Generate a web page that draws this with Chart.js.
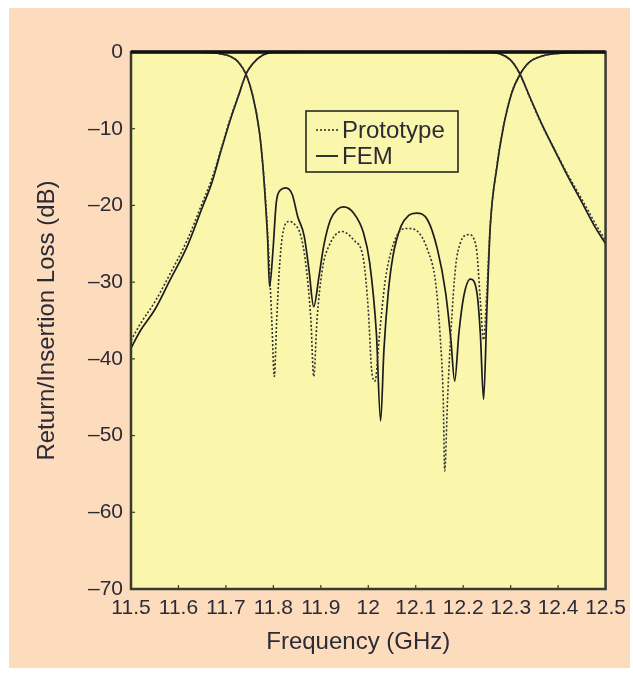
<!DOCTYPE html>
<html>
<head>
<meta charset="utf-8">
<title>Return / Insertion Loss</title>
<script src="https://cdn.jsdelivr.net/npm/chart.js@4.4.1/dist/chart.umd.min.js"></script>
<style>
    html, body { margin: 0; padding: 0; background: #ffffff; }
    #panel {
        position: absolute; left: 9px; top: 8px;
        width: 621px; height: 660px;
        background: #fddbbd;
    }
    #wrap { position: absolute; left: 0; top: 0; width: 633px; height: 673px; }
</style>
</head>
<body>
<div id="panel"></div>
<div id="wrap"><canvas id="lossChart" width="633" height="673"></canvas></div>
<script>
// Filter response: prototype (measured) vs FEM simulation

const freqTickLabels = ['11.5', '11.6', '11.7', '11.8', '11.9', '12', '12.1', '12.2', '12.3', '12.4', '12.5'];
const dbTickLabels = ['\u201370', '\u201360', '\u201350', '\u201340', '\u201330', '\u201320', '\u201310', '0'];
const seriesNames = ['Prototype', 'FEM'];

// Insertion loss (S21)
const femIlFreq = [11.50, 11.52, 11.55, 11.58, 11.62, 11.65, 11.67, 11.69, 11.71, 11.726, 11.743, 11.757, 11.778, 11.80, 12.00, 12.26, 12.278, 12.299, 12.319, 12.34, 12.368, 12.396, 12.417, 12.451, 12.475, 12.50];
const femIlDb = [-38.6, -36.3, -33.6, -30.0, -25.1, -20.3, -17.1, -12.8, -8.7, -5.8, -2.8, -1.5, -0.4, -0.05, 0, -0.05, -0.25, -1.0, -2.8, -5.8, -9.7, -13.2, -15.8, -19.7, -22.5, -25.0];

const protoIlFreq = [11.50, 11.52, 11.55, 11.58, 11.62, 11.65, 11.67, 11.69, 11.71, 11.726, 11.743, 11.757, 11.778, 11.80, 12.00, 12.26, 12.278, 12.299, 12.319, 12.34, 12.368, 12.396, 12.417, 12.451, 12.475, 12.50];
const protoIlDb = [-37.6, -35.4, -32.6, -29.2, -24.3, -19.7, -16.6, -12.6, -8.5, -5.7, -2.8, -1.5, -0.4, -0.05, 0, -0.05, -0.25, -1.0, -2.8, -5.9, -9.8, -13.1, -15.6, -19.3, -22.0, -24.6];

// Return loss (S11)
const femRlFreq = [11.50, 11.64, 11.67, 11.69, 11.71, 11.726, 11.743, 11.757, 11.771, 11.778, 11.783, 11.788, 11.792, 11.799, 11.806, 11.815, 11.826, 11.84, 11.851, 11.865, 11.875, 11.885, 11.896, 11.906, 11.92, 11.935, 11.948, 11.969, 11.99, 12.003, 12.017, 12.026, 12.033, 12.042, 12.052, 12.069, 12.085, 12.101, 12.125, 12.146, 12.163, 12.174, 12.182, 12.191, 12.201, 12.215, 12.229, 12.236, 12.243, 12.25, 12.257, 12.271, 12.285, 12.302, 12.319, 12.34, 12.368, 12.396, 12.43, 12.50];
const femRlDb = [0, -0.03, -0.1, -0.25, -0.6, -1.3, -3.0, -5.8, -10.6, -14.9, -19.3, -24.5, -30.6, -26.0, -19.7, -18.0, -17.7, -18.6, -21.4, -24.0, -28.4, -33.2, -29.3, -25.3, -21.9, -20.5, -20.2, -21.0, -23.6, -27.5, -36.6, -48.1, -38.8, -31.4, -26.6, -22.7, -21.3, -21.0, -21.9, -25.8, -31.4, -37.5, -42.9, -36.6, -31.9, -29.6, -31.4, -36.6, -45.3, -33.5, -22.8, -15.0, -9.7, -5.4, -3.0, -1.3, -0.5, -0.2, -0.05, 0];

const protoRlFreq = [11.50, 11.64, 11.67, 11.69, 11.71, 11.726, 11.743, 11.757, 11.771, 11.778, 11.785, 11.792, 11.797, 11.802, 11.807, 11.8125, 11.819, 11.833, 11.842, 11.858, 11.868, 11.879, 11.885, 11.892, 11.903, 11.917, 11.944, 11.969, 11.99, 12.0, 12.007, 12.014, 12.024, 12.035, 12.049, 12.069, 12.083, 12.104, 12.125, 12.142, 12.151, 12.158, 12.161, 12.167, 12.174, 12.184, 12.194, 12.212, 12.222, 12.229, 12.236, 12.243, 12.25, 12.257, 12.271, 12.285, 12.302, 12.319, 12.34, 12.368, 12.396, 12.43, 12.50];
const protoRlDb = [0, -0.03, -0.1, -0.25, -0.6, -1.3, -3.0, -5.8, -10.6, -14.9, -20.5, -28.5, -35.5, -42.3, -35.0, -28.4, -24.0, -22.1, -22.3, -24.0, -27.5, -34.9, -42.3, -34.9, -28.4, -25.3, -23.4, -24.5, -27.1, -33.6, -41.4, -42.9, -36.6, -30.1, -25.8, -23.2, -23.0, -23.4, -25.8, -30.1, -36.6, -45.3, -54.6, -45.3, -36.6, -28.0, -24.9, -23.8, -24.3, -26.2, -32.3, -37.5, -31.0, -22.5, -14.8, -9.6, -5.3, -3.0, -1.3, -0.5, -0.2, -0.05, 0];

const textColor = '#2b2b36';
const lineColor = '#1c1c1c';
const protoDash = [2, 2];

function toPoints(xs, ys) {
    return xs.map(function(x, i) { return { x: x, y: ys[i] }; });
}

function protoStyle(data) {
    return {
        data: data,
        borderColor: '#333333',
        borderWidth: 1.6,
        borderDash: protoDash,
        pointRadius: 0,
        cubicInterpolationMode: 'monotone',
        fill: false
    };
}

function femStyle(data) {
    return {
        data: data,
        borderColor: lineColor,
        borderWidth: 1.7,
        pointRadius: 0,
        cubicInterpolationMode: 'monotone',
        fill: false
    };
}

// yellow plot background
const plotBackground = {
    id: 'plotBackground',
    beforeDraw(chart) {
        const { ctx, chartArea } = chart;
        ctx.save();
        ctx.fillStyle = '#faf6ac';
        ctx.fillRect(chartArea.left, chartArea.top, chartArea.right - chartArea.left, chartArea.bottom - chartArea.top);
        ctx.restore();
    }
};

// frame with small inward ticks
const plotFrame = {
    id: 'plotFrame',
    afterDatasetsDraw(chart) {
        const { ctx, chartArea, scales } = chart;
        ctx.save();
        ctx.strokeStyle = '#3a3a2e';
        ctx.lineWidth = 1.2;
        scales.x.ticks.forEach(function(t) {
            const px = scales.x.getPixelForValue(t.value);
            ctx.beginPath();
            ctx.moveTo(px, chartArea.bottom);
            ctx.lineTo(px, chartArea.bottom - 4);
            ctx.stroke();
        });
        scales.y.ticks.forEach(function(t) {
            const py = scales.y.getPixelForValue(t.value);
            ctx.beginPath();
            ctx.moveTo(chartArea.left, py);
            ctx.lineTo(chartArea.left + 4, py);
            ctx.stroke();
        });
        ctx.lineWidth = 2.5;
        ctx.strokeRect(chartArea.left, chartArea.top, chartArea.right - chartArea.left, chartArea.bottom - chartArea.top);
        ctx.strokeStyle = '#111111';
        ctx.lineWidth = 3.5;
        ctx.beginPath();
        ctx.moveTo(chartArea.left, chartArea.top);
        ctx.lineTo(chartArea.right, chartArea.top);
        ctx.stroke();
        ctx.restore();
    }
};

// boxed legend inside the plot
const boxedLegend = {
    id: 'boxedLegend',
    afterDraw(chart) {
        const { ctx, chartArea } = chart;
        const bx = chartArea.left + 175;
        const by = chartArea.top + 59;
        const bw = 152;
        const bh = 61;
        ctx.save();
        ctx.strokeStyle = '#2a2a24';
        ctx.lineWidth = 1.6;
        ctx.strokeRect(bx, by, bw, bh);

        const rows = [
            { name: seriesNames[0], y: by + 19, dash: protoDash, color: '#333333', width: 1.6 },
            { name: seriesNames[1], y: by + 45, dash: [], color: lineColor, width: 1.8 }
        ];
        ctx.font = '24px "Liberation Sans", Arial, sans-serif';
        ctx.textBaseline = 'middle';
        ctx.textAlign = 'left';
        rows.forEach(function(r) {
            ctx.strokeStyle = r.color;
            ctx.lineWidth = r.width;
            ctx.setLineDash(r.dash);
            ctx.beginPath();
            ctx.moveTo(bx + 10, r.y);
            ctx.lineTo(bx + 32, r.y);
            ctx.stroke();
            ctx.setLineDash([]);
            ctx.fillStyle = textColor;
            ctx.fillText(r.name, bx + 36, r.y + 1);
        });
        ctx.restore();
    }
};

Chart.defaults.font.family = '"Liberation Sans", Arial, sans-serif';
Chart.defaults.color = textColor;

new Chart(document.getElementById('lossChart'), {
    type: 'line',
    data: {
        datasets: [
            protoStyle(toPoints(protoIlFreq, protoIlDb)),
            protoStyle(toPoints(protoRlFreq, protoRlDb)),
            femStyle(toPoints(femIlFreq, femIlDb)),
            femStyle(toPoints(femRlFreq, femRlDb))
        ]
    },
    options: {
        responsive: false,
        animation: false,
        layout: {
            padding: { left: 0, top: 52, right: 24, bottom: 0 }
        },
        plugins: {
            legend: { display: false },
            tooltip: { enabled: false }
        },
        scales: {
            x: {
                type: 'linear',
                min: 11.5,
                max: 12.5,
                afterFit: function(scale) { scale.height = 84; },
                afterBuildTicks: function(scale) {
                    scale.ticks = freqTickLabels.map(function(l) { return { value: parseFloat(l) }; });
                },
                grid: { display: false, drawTicks: false },
                border: { display: false },
                ticks: {
                    padding: 7,
                    maxRotation: 0,
                    autoSkip: false,
                    font: { size: 21 },
                    callback: function(value, index) { return freqTickLabels[index]; }
                },
                title: {
                    display: true,
                    text: 'Frequency (GHz)\u00a0\u00a0\u00a0',
                    font: { size: 24 },
                    padding: { top: 0, bottom: 16 }
                }
            },
            y: {
                min: -70,
                max: 0,
                afterFit: function(scale) { scale.width = 131; },
                afterBuildTicks: function(scale) {
                    scale.ticks = dbTickLabels.map(function(l, i) { return { value: -70 + i * 10 }; });
                },
                grid: { display: false, drawTicks: false },
                border: { display: false },
                ticks: {
                    padding: 8,
                    autoSkip: false,
                    font: { size: 21 },
                    callback: function(value, index) { return dbTickLabels[index]; }
                },
                title: {
                    display: true,
                    text: 'Return/Insertion Loss (dB)',
                    font: { size: 24 },
                    padding: { top: 33, bottom: 0 }
                }
            }
        }
    },
    plugins: [plotBackground, plotFrame, boxedLegend]
});
</script>
</body>
</html>
